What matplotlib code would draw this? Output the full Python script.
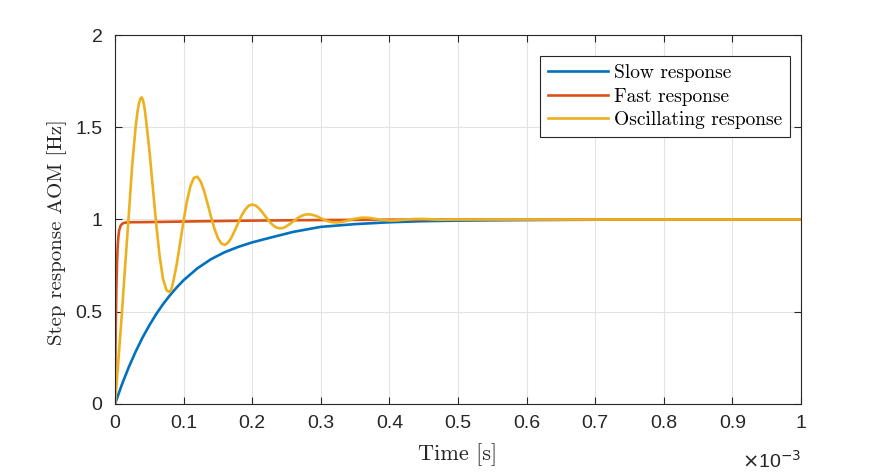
import matplotlib
matplotlib.use("Agg")
import matplotlib.pyplot as plt
from matplotlib.ticker import FuncFormatter

# time axis in units of 1e-3 s
t_slow = [0, 0.01, 0.02, 0.03, 0.04, 0.05, 0.06, 0.07, 0.08, 0.09, 0.10,
          0.12, 0.14, 0.16, 0.18, 0.20, 0.23, 0.26, 0.30, 0.35, 0.40, 0.45,
          0.50, 0.60, 0.70, 0.80, 0.90, 1.0]
y_slow = [0, 0.105, 0.199, 0.283, 0.359, 0.426, 0.487, 0.541, 0.589, 0.632, 0.671,
          0.735, 0.785, 0.823, 0.852, 0.876, 0.905, 0.933, 0.960, 0.975, 0.985, 0.991,
          0.994, 0.997, 0.999, 1.0, 1.0, 1.0]

t_fast = [0, 0.0005, 0.001, 0.002, 0.003, 0.004, 0.005, 0.006, 0.008, 0.010,
          0.012, 0.015, 0.02, 0.05, 0.10, 0.20, 0.30, 0.40, 0.50, 1.0]
y_fast = [0, 0.22, 0.39, 0.63, 0.77, 0.86, 0.91, 0.94, 0.965, 0.975,
          0.980, 0.983, 0.985, 0.986, 0.989, 0.994, 0.997, 0.999, 1.0, 1.0]

t_osc = [0, 0.005, 0.010, 0.015, 0.020, 0.025, 0.030, 0.033, 0.035, 0.037, 0.039,
         0.041, 0.043, 0.045, 0.050, 0.055, 0.060, 0.065, 0.070, 0.075, 0.078, 0.080,
         0.082, 0.085, 0.090,
         0.095, 0.100, 0.105, 0.110, 0.115, 0.120, 0.125, 0.130, 0.135, 0.140,
         0.145, 0.150, 0.155, 0.160, 0.165, 0.170, 0.175, 0.180, 0.185, 0.190,
         0.195, 0.200, 0.205, 0.210, 0.215, 0.220, 0.225, 0.230, 0.235, 0.240,
         0.245, 0.250, 0.255, 0.260, 0.265, 0.270, 0.275, 0.280, 0.285, 0.290,
         0.295, 0.300, 0.305, 0.310, 0.315, 0.320, 0.325, 0.330, 0.340, 0.350,
         0.360, 0.370, 0.380, 0.390, 0.400, 0.410, 0.420, 0.430, 0.440, 0.450,
         0.460, 0.470, 0.480, 0.500, 0.600, 0.800, 1.0]
y_osc = [0, 0.24, 0.49, 0.76, 1.02, 1.29, 1.50, 1.59, 1.63, 1.655, 1.662,
         1.645, 1.605, 1.548, 1.380, 1.179, 0.977, 0.803, 0.677, 0.618, 0.608, 0.610,
         0.620, 0.664, 0.758,
         0.876, 0.995, 1.102, 1.181, 1.226, 1.232, 1.205, 1.153, 1.085, 1.014,
         0.949, 0.899, 0.870, 0.862, 0.875, 0.904, 0.943, 0.985, 1.025, 1.055,
         1.075, 1.081, 1.076, 1.060, 1.038, 1.013, 0.989, 0.970, 0.957, 0.952,
         0.954, 0.963, 0.976, 0.990, 1.004, 1.016, 1.024, 1.028, 1.027, 1.023,
         1.016, 1.007, 0.999, 0.991, 0.986, 0.984, 0.984, 0.986, 0.995, 1.004,
         1.010, 1.009, 1.003, 0.998, 0.994, 0.995, 0.998, 1.001, 1.003, 1.003,
         1.001, 0.999, 0.999, 1.0, 1.0, 1.0, 1.0]

labels = ["Slow response", "Fast response", "Oscillating response"]
colors = ["#0072BD", "#D95319", "#EDB120"]

plt.rcParams['font.family'] = 'Liberation Sans'

fig = plt.figure(figsize=(8.86, 4.73), dpi=100)
ax = fig.add_axes([0.1298, 0.1459, 0.7743, 0.7801])

ax.plot(t_slow, y_slow, color=colors[0], lw=1.9, label=labels[0])
ax.plot(t_fast, y_fast, color=colors[1], lw=1.9, label=labels[1])
ax.plot(t_osc, y_osc, color=colors[2], lw=1.9, label=labels[2])

ax.set_xlim(0, 1)
ax.set_ylim(0, 2)
ax.set_xticks([i / 10 for i in range(11)])
ax.set_yticks([0, 0.5, 1, 1.5, 2])
fmt = FuncFormatter(lambda v, p: "%g" % round(v, 3))
ax.xaxis.set_major_formatter(fmt)
ax.yaxis.set_major_formatter(fmt)
ax.tick_params(direction='in', top=True, right=True, labelsize=14,
               colors='#262626', length=5, width=0.8)
ax.tick_params(axis='x', pad=8)
ax.tick_params(axis='y', pad=9)
for s in ax.spines.values():
    s.set_color('#262626')
    s.set_linewidth(0.8)
ax.grid(True, color='#e3e3e3', lw=0.8)
ax.set_axisbelow(True)

ax.set_xlabel("Time [s]", family='cmr10', fontsize=16, color='#262626', labelpad=8)
ax.set_ylabel("Step response AOM [Hz]", family='cmr10', fontsize=15, color='#262626')
ax.yaxis.set_label_coords(-0.070, 0.466)

ax.text(1.0, -0.155, r"$\times$10$^{-3}$", transform=ax.transAxes, ha='right', va='center',
        fontsize=14, color='#262626')

leg = ax.legend(loc='upper right', bbox_to_anchor=(0.984, 0.942), prop={'family': 'cmr10', 'size': 14},
                fancybox=False, edgecolor='#262626', framealpha=1, handlelength=3.1,
                borderpad=0.4, labelspacing=0.28, handletextpad=0.3, borderaxespad=0)
leg.get_frame().set_linewidth(0.8)

fig.savefig("out.png", dpi=100)
